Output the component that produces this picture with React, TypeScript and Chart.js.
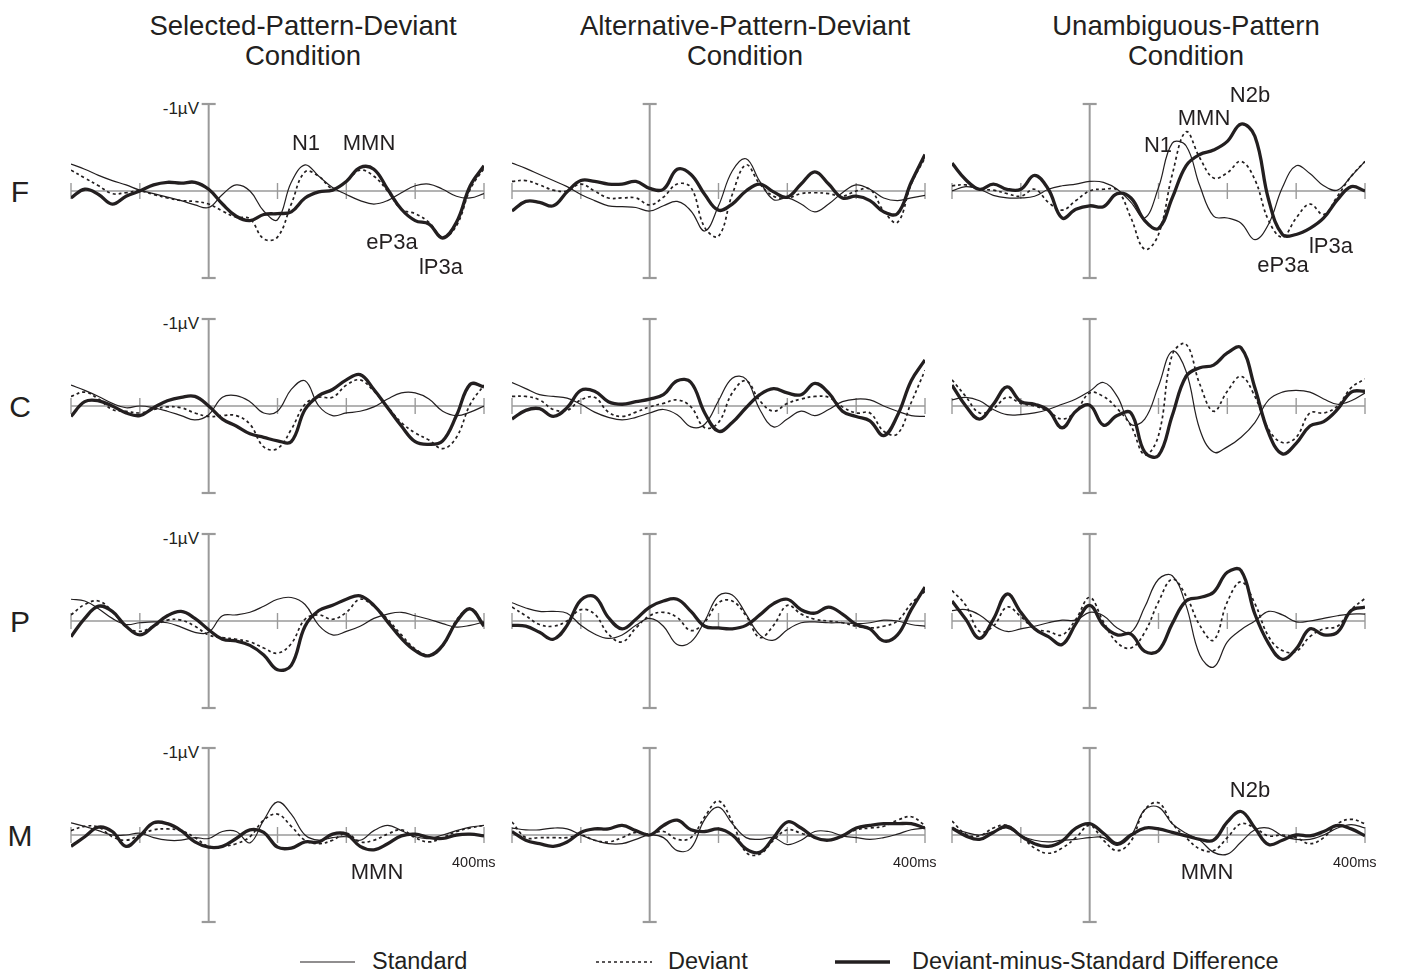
import React, { useEffect, useRef } from "react";
import { Chart, registerables } from "chart.js";

Chart.register(...registerables);

// ---------- data ----------
const TIME_MS = [-200, -180, -160, -140, -120, -100, -80, -60, -40, -20, 0, 20, 40, 60, 80, 100, 120, 140, 160, 180, 200, 220, 240, 260, 280, 300, 320, 340, 360, 380, 400];
const X_TICKS_MS = [-200, -100, 0, 100, 200, 300, 400];
const Y_RANGE_UV = [-1, 1];

const COLUMN_TITLES = [
  ["Selected-Pattern-Deviant", "Condition"],
  ["Alternative-Pattern-Deviant", "Condition"],
  ["Unambiguous-Pattern", "Condition"],
];
const ROW_LABELS = ["F", "C", "P", "M"];
const LEGEND_LABELS = ["Standard", "Deviant", "Deviant-minus-Standard Difference"];

// Frontal
const F_SEL_STD = [-0.31, -0.25, -0.18, -0.12, -0.07, -0.01, 0.03, 0.07, 0.11, 0.16, 0.19, 0.04, -0.07, 0, 0.23, 0.33, -0.10, -0.30, -0.17, -0.04, 0.04, 0.11, 0.15, 0.11, 0.02, -0.06, -0.08, -0.02, 0.06, 0.08, 0.03];
const F_SEL_DEV = [-0.24, -0.15, -0.06, 0.03, 0.02, 0, 0.04, 0.08, 0.11, 0.12, 0.15, 0.23, 0.30, 0.32, 0.55, 0.53, 0.15, -0.22, -0.17, -0.03, -0.11, -0.24, -0.17, 0, 0.21, 0.26, 0.36, 0.53, 0.40, -0.02, -0.26];
const F_SEL_DIFF = [0.08, -0.02, 0.04, 0.15, 0.06, 0, -0.07, -0.10, -0.09, -0.10, -0.02, 0.15, 0.29, 0.34, 0.27, 0.26, 0.24, 0.08, 0.01, -0.01, -0.11, -0.27, -0.25, -0.02, 0.21, 0.34, 0.38, 0.54, 0.36, -0.06, -0.29];

const F_ALT_STD = [-0.32, -0.26, -0.19, -0.12, -0.05, 0.04, 0.11, 0.17, 0.18, 0.19, 0.23, 0.17, 0.12, 0.23, 0.46, 0.17, -0.23, -0.37, -0.11, 0.10, 0.08, 0.15, 0.24, 0.15, 0.02, -0.07, -0.02, 0.08, 0.11, 0.08, 0.05];
const F_ALT_DEV = [-0.11, -0.12, -0.07, -0.01, 0, -0.08, 0, 0.08, 0.08, 0.08, 0.16, 0.07, -0.08, -0.04, 0.42, 0.52, 0.04, -0.30, -0.08, 0.06, 0.08, 0.03, 0.02, 0.03, 0.06, 0, -0.02, 0.23, 0.36, -0.08, -0.38];
const F_ALT_DIFF = [0.23, 0.12, 0.13, 0.17, 0.01, -0.12, -0.11, -0.08, -0.08, -0.11, -0.03, -0.02, -0.25, -0.19, 0.04, 0.22, 0.15, 0, -0.08, 0.01, 0.07, -0.08, -0.22, -0.08, 0.08, 0.06, 0.11, 0.24, 0.26, -0.10, -0.42];

const F_UNA_STD = [0, -0.05, -0.02, 0.05, 0.08, 0.08, 0.06, -0.02, -0.06, -0.08, -0.11, -0.10, -0.02, 0.13, 0.31, -0.04, -0.55, -0.52, -0.06, 0.29, 0.31, 0.37, 0.56, 0.38, -0.04, -0.29, -0.20, -0.06, -0.01, -0.17, -0.34];
const F_UNA_DEV = [-0.06, -0.07, -0.02, -0.01, 0.03, 0.06, -0.02, 0.13, 0.22, 0.11, 0, -0.02, -0.01, 0.31, 0.67, 0.50, -0.19, -0.68, -0.38, -0.15, -0.21, -0.34, -0.13, 0.34, 0.53, 0.31, 0.15, 0.27, 0.06, -0.17, -0.34];
const F_UNA_DIFF = [-0.32, -0.13, -0.02, -0.08, -0.02, -0.02, -0.18, -0.02, 0.31, 0.21, 0.17, 0.18, 0.03, 0.08, 0.34, 0.43, 0.08, -0.29, -0.42, -0.47, -0.57, -0.77, -0.63, 0.10, 0.50, 0.50, 0.43, 0.31, 0.10, -0.05, 0];

// Central
const C_SEL_STD = [-0.24, -0.18, -0.11, -0.03, 0.02, 0, 0.02, 0.06, 0.11, 0.16, 0.10, -0.10, -0.12, -0.05, 0.08, 0.06, -0.19, -0.29, 0, 0.11, 0.08, 0.06, 0.01, -0.08, -0.15, -0.15, -0.08, 0.06, 0.11, 0.07, 0];
const C_SEL_DEV = [-0.11, -0.16, -0.08, 0.04, 0.06, 0.08, 0.04, 0.01, 0.02, 0.08, 0.12, 0.11, 0.11, 0.21, 0.47, 0.49, 0.27, -0.02, -0.10, -0.10, -0.24, -0.30, -0.17, 0.01, 0.19, 0.31, 0.39, 0.49, 0.36, -0.02, -0.24];
const C_SEL_DIFF = [0.12, -0.05, -0.06, 0, 0.08, 0.11, 0.02, -0.06, -0.10, -0.11, 0, 0.15, 0.23, 0.32, 0.36, 0.40, 0.41, 0.04, -0.12, -0.19, -0.30, -0.36, -0.19, 0.02, 0.23, 0.41, 0.44, 0.40, 0.11, -0.25, -0.22];

const C_ALT_STD = [-0.27, -0.20, -0.13, -0.11, -0.09, -0.02, 0.07, 0.13, 0.16, 0.13, 0.08, 0.04, 0.10, 0.24, 0.21, -0.06, -0.32, -0.31, 0.04, 0.24, 0.15, 0.06, 0.11, 0.04, -0.05, -0.08, -0.07, 0, 0.06, 0.11, 0.12];
const C_ALT_DEV = [-0.11, -0.11, -0.07, 0.04, 0.05, -0.07, -0.10, 0.07, 0.12, 0.07, 0.01, -0.03, -0.07, 0.01, 0.25, 0.19, -0.15, -0.29, -0.06, 0.06, -0.03, -0.08, -0.11, -0.10, 0.01, 0.08, 0.08, 0.29, 0.32, -0.04, -0.41];
const C_ALT_DIFF = [0.15, 0.05, 0.03, 0.12, 0.02, -0.18, -0.17, -0.05, -0.02, -0.05, -0.08, -0.13, -0.29, -0.27, 0.08, 0.29, 0.19, 0.02, -0.13, -0.20, -0.15, -0.13, -0.26, -0.15, 0.06, 0.12, 0.17, 0.34, 0.11, -0.29, -0.53];

const C_UNA_STD = [-0.07, -0.10, -0.06, 0.04, 0.10, 0.10, 0.08, 0.04, -0.02, -0.08, -0.17, -0.27, -0.11, 0.21, 0.15, -0.23, -0.63, -0.40, 0.27, 0.53, 0.47, 0.36, 0.19, -0.07, -0.16, -0.18, -0.16, -0.08, -0.02, -0.06, -0.15];
const C_UNA_DEV = [-0.30, -0.11, 0.08, 0.03, -0.10, -0.03, 0, 0.06, 0.15, 0.06, -0.15, -0.11, 0.03, 0.23, 0.56, 0.34, -0.59, -0.71, -0.25, 0.06, -0.17, -0.34, -0.11, 0.27, 0.42, 0.36, 0.08, 0.08, 0, -0.21, -0.31];
const C_UNA_DIFF = [-0.24, 0, 0.15, -0.02, -0.22, -0.05, -0.02, 0.05, 0.25, 0.06, -0.01, 0.22, 0.11, 0.08, 0.53, 0.57, 0.11, -0.34, -0.44, -0.47, -0.61, -0.67, -0.21, 0.31, 0.55, 0.43, 0.23, 0.18, 0.04, -0.16, -0.17];

// Parietal
const P_SEL_STD = [-0.25, -0.23, -0.14, -0.03, 0.04, 0.02, 0.01, 0.02, 0.07, 0.13, 0.13, -0.06, -0.07, -0.10, -0.17, -0.25, -0.27, -0.19, 0.05, 0.16, 0.12, 0.06, -0.03, -0.08, -0.10, -0.06, -0.02, 0.03, 0.07, 0.05, 0.01];
const P_SEL_DEV = [-0.07, -0.19, -0.23, -0.11, 0.07, 0.12, 0.06, -0.01, -0.01, 0.06, 0.16, 0.19, 0.21, 0.24, 0.31, 0.37, 0.26, -0.02, -0.07, -0.02, -0.10, -0.25, -0.17, -0.02, 0.16, 0.32, 0.39, 0.29, -0.01, -0.14, 0.03];
const P_SEL_DIFF = [0.18, -0.03, -0.17, -0.11, 0.06, 0.16, 0.06, -0.06, -0.11, -0.03, 0.10, 0.21, 0.23, 0.28, 0.39, 0.56, 0.51, 0.06, -0.12, -0.18, -0.25, -0.29, -0.18, 0.01, 0.20, 0.34, 0.40, 0.28, 0.01, -0.14, 0.06];

const P_ALT_STD = [-0.21, -0.15, -0.11, -0.11, -0.09, 0.05, 0.15, 0.20, 0.16, 0.05, -0.03, 0.06, 0.27, 0.24, 0, -0.29, -0.30, -0.08, 0.16, 0.22, 0.10, 0.02, 0.01, 0.02, 0.02, 0.03, 0.02, -0.01, 0, 0.04, 0.06];
const P_ALT_DEV = [-0.16, -0.06, 0.04, 0.06, 0, -0.13, -0.08, 0.15, 0.24, 0.08, -0.06, -0.10, -0.04, 0.11, 0.01, -0.21, -0.23, -0.06, 0.19, 0.05, -0.18, -0.08, -0.02, 0, 0.02, 0.06, 0.08, 0.06, 0, -0.20, -0.34];
const P_ALT_DIFF = [0.05, 0.06, 0.13, 0.21, 0.05, -0.24, -0.28, -0.04, 0.09, -0.02, -0.16, -0.23, -0.25, -0.11, 0.06, 0.08, 0.09, 0.05, -0.07, -0.20, -0.25, -0.13, -0.09, -0.16, -0.08, 0.04, 0.09, 0.23, 0.16, -0.13, -0.39];

const P_UNA_STD = [-0.12, -0.13, -0.07, 0.05, 0.12, 0.09, 0.06, 0.02, -0.01, -0.01, -0.10, -0.06, 0.08, 0.13, -0.16, -0.48, -0.52, -0.18, 0.39, 0.53, 0.24, 0.10, 0, -0.11, -0.07, 0.01, 0, -0.03, -0.06, -0.08, -0.08];
const P_UNA_DEV = [-0.35, -0.18, 0.12, 0.06, -0.16, -0.05, 0.09, 0.12, 0.16, -0.02, -0.27, 0.01, 0.25, 0.31, 0.13, -0.22, -0.48, -0.29, 0.05, 0.22, -0.22, -0.45, -0.20, 0.18, 0.34, 0.35, 0.18, 0.09, 0.06, -0.13, -0.26];
const P_UNA_DIFF = [-0.23, -0.02, 0.20, -0.02, -0.31, -0.10, 0.09, 0.18, 0.27, 0.03, -0.18, 0.05, 0.16, 0.15, 0.35, 0.34, 0.03, -0.23, -0.27, -0.33, -0.56, -0.58, -0.08, 0.26, 0.44, 0.32, 0.09, 0.16, 0.13, -0.12, -0.16];

// Mastoid
const M_SEL_STD = [-0.14, -0.10, -0.05, 0, 0, -0.02, 0.03, 0.06, 0.06, 0.03, 0.04, -0.04, -0.04, 0.09, -0.17, -0.38, -0.24, 0, 0.06, 0.03, 0.02, 0.06, -0.05, -0.11, -0.05, 0.02, 0.04, 0, -0.05, -0.09, -0.11];
const M_SEL_DEV = [-0.05, -0.10, -0.09, 0.02, 0.06, 0, -0.06, -0.07, -0.05, 0.03, 0.13, 0.13, 0.10, 0.02, -0.17, -0.24, -0.10, 0.06, 0.10, 0.06, -0.02, 0.08, 0.06, -0.01, -0.06, 0.03, 0.08, 0.03, -0.04, -0.08, -0.11];
const M_SEL_DIFF = [0.13, 0.02, -0.09, -0.04, 0.13, 0.01, -0.14, -0.13, -0.05, 0.08, 0.14, 0.13, 0.04, -0.06, -0.03, 0.14, 0.15, 0.08, 0.08, -0.01, -0.01, 0.13, 0.17, 0.10, 0.01, -0.01, 0.03, 0.04, 0, -0.01, 0.01];

const M_ALT_STD = [-0.08, -0.06, -0.06, -0.08, -0.07, 0, 0.06, 0.10, 0.10, 0.05, 0, 0.03, 0.18, 0.15, -0.18, -0.32, -0.13, 0.03, 0.05, 0.03, 0.11, 0.06, -0.04, -0.04, 0.01, 0.03, 0.05, 0.03, -0.01, -0.06, -0.08];
const M_ALT_DEV = [-0.15, 0.03, 0.03, 0.03, 0.03, 0, 0.06, 0.08, 0.03, -0.03, -0.01, -0.04, 0.05, 0.03, -0.21, -0.39, -0.15, 0.20, 0.22, 0.06, -0.06, -0.02, 0.03, 0.06, 0.01, -0.06, -0.08, -0.10, -0.17, -0.21, -0.11];
const M_ALT_DIFF = [-0.04, 0.06, 0.10, 0.13, 0.08, -0.03, -0.07, -0.07, -0.11, -0.05, 0, -0.11, -0.17, -0.06, -0.04, -0.07, 0, 0.16, 0.20, 0.03, -0.15, -0.08, 0.03, 0.06, 0.01, -0.08, -0.11, -0.13, -0.13, -0.13, -0.08];

const M_UNA_STD = [-0.08, -0.03, 0, -0.04, -0.08, 0.01, 0.06, 0.08, 0.06, 0.05, 0.03, 0.03, 0.12, 0.01, -0.29, -0.32, -0.13, -0.02, 0.06, 0.20, 0.22, 0.08, -0.06, -0.08, 0.01, 0.05, 0.05, 0, -0.08, -0.12, -0.08];
const M_UNA_DEV = [-0.16, -0.01, 0.01, -0.08, -0.11, 0.01, 0.15, 0.21, 0.15, 0.03, -0.11, 0.06, 0.18, 0.07, -0.29, -0.37, -0.13, 0.03, 0.16, 0.18, 0.03, -0.13, -0.08, 0.01, 0, 0.03, 0.10, 0.03, -0.13, -0.18, -0.13];
const M_UNA_DIFF = [-0.08, 0.01, 0.05, -0.03, -0.10, 0.01, 0.10, 0.13, 0.07, -0.08, -0.13, -0.02, 0.10, 0, -0.08, -0.07, -0.03, 0.01, 0.05, 0.06, -0.15, -0.27, -0.08, 0.11, 0.06, 0, 0.01, -0.04, -0.11, -0.07, 0.01];

// ---------- layout & style ----------
const INK = "#231f20";
const AXIS = "#9a9a9a";
const FONT = '"Liberation Sans", Arial, Helvetica, sans-serif';
const COL_LEFT = [71, 512, 952];
const ROW_TOP = [104, 319, 534, 748];
const PLOT_W = 413;
const PLOT_H = 174;
const PAD = 10;

const PANELS = [
  { row: 0, col: 0, std: F_SEL_STD, dev: F_SEL_DEV, diff: F_SEL_DIFF },
  { row: 0, col: 1, std: F_ALT_STD, dev: F_ALT_DEV, diff: F_ALT_DIFF },
  { row: 0, col: 2, std: F_UNA_STD, dev: F_UNA_DEV, diff: F_UNA_DIFF },
  { row: 1, col: 0, std: C_SEL_STD, dev: C_SEL_DEV, diff: C_SEL_DIFF },
  { row: 1, col: 1, std: C_ALT_STD, dev: C_ALT_DEV, diff: C_ALT_DIFF },
  { row: 1, col: 2, std: C_UNA_STD, dev: C_UNA_DEV, diff: C_UNA_DIFF },
  { row: 2, col: 0, std: P_SEL_STD, dev: P_SEL_DEV, diff: P_SEL_DIFF },
  { row: 2, col: 1, std: P_ALT_STD, dev: P_ALT_DEV, diff: P_ALT_DIFF },
  { row: 2, col: 2, std: P_UNA_STD, dev: P_UNA_DEV, diff: P_UNA_DIFF },
  { row: 3, col: 0, std: M_SEL_STD, dev: M_SEL_DEV, diff: M_SEL_DIFF },
  { row: 3, col: 1, std: M_ALT_STD, dev: M_ALT_DEV, diff: M_ALT_DIFF },
  { row: 3, col: 2, std: M_UNA_STD, dev: M_UNA_DEV, diff: M_UNA_DIFF },
];

const ANNOTATIONS = [
  { text: "N1", x: 306, y: 143 },
  { text: "MMN", x: 369, y: 143 },
  { text: "eP3a", x: 392, y: 242 },
  { text: "lP3a", x: 441, y: 267 },
  { text: "N2b", x: 1250, y: 95 },
  { text: "MMN", x: 1204, y: 118 },
  { text: "N1", x: 1158, y: 145 },
  { text: "eP3a", x: 1283, y: 265 },
  { text: "lP3a", x: 1331, y: 246 },
  { text: "MMN", x: 377, y: 872 },
  { text: "N2b", x: 1250, y: 790 },
  { text: "MMN", x: 1207, y: 872 },
];

const axesPlugin = {
  id: "erpAxes",
  beforeDatasetsDraw(chart: any) {
    const { ctx } = chart;
    const xs = chart.scales.x;
    const ys = chart.scales.y;
    const x0 = xs.getPixelForValue(0);
    const y0 = ys.getPixelForValue(0);
    const yTop = ys.getPixelForValue(Y_RANGE_UV[0]);
    const yBot = ys.getPixelForValue(Y_RANGE_UV[1]);
    const xMin = xs.getPixelForValue(X_TICKS_MS[0]);
    const xMax = xs.getPixelForValue(X_TICKS_MS[X_TICKS_MS.length - 1]);
    ctx.save();
    ctx.strokeStyle = AXIS;
    ctx.lineCap = "butt";
    ctx.lineWidth = 1.6;
    ctx.beginPath();
    ctx.moveTo(xMin, y0);
    ctx.lineTo(xMax, y0);
    ctx.stroke();
    ctx.lineWidth = 1.4;
    for (const t of X_TICKS_MS) {
      if (t === 0) continue;
      const px = xs.getPixelForValue(t);
      ctx.beginPath();
      ctx.moveTo(px, y0 - 8);
      ctx.lineTo(px, y0 + 8);
      ctx.stroke();
    }
    ctx.lineWidth = 2;
    ctx.beginPath();
    ctx.moveTo(x0, yTop);
    ctx.lineTo(x0, yBot);
    ctx.stroke();
    ctx.lineWidth = 2.2;
    for (const yy of [yTop, yBot]) {
      ctx.beginPath();
      ctx.moveTo(x0 - 7, yy);
      ctx.lineTo(x0 + 7, yy);
      ctx.stroke();
    }
    ctx.restore();
  },
};

function toPoints(values: number[]) {
  return TIME_MS.map((t, i) => ({ x: t, y: values[i] }));
}

function Panel({ panel }: { panel: any }) {
  const ref = useRef<HTMLCanvasElement | null>(null);
  useEffect(() => {
    if (!ref.current) return;
    const chart = new Chart(ref.current, {
      type: "line",
      data: {
        datasets: [
          { label: LEGEND_LABELS[0], data: toPoints(panel.std), borderColor: INK, borderWidth: 1.2, tension: 0.4, pointRadius: 0, fill: false },
          { label: LEGEND_LABELS[1], data: toPoints(panel.dev), borderColor: INK, borderWidth: 1.7, borderDash: [3, 3], tension: 0.4, pointRadius: 0, fill: false },
          { label: LEGEND_LABELS[2], data: toPoints(panel.diff), borderColor: INK, borderWidth: 3.3, tension: 0.4, pointRadius: 0, fill: false },
        ],
      },
      options: {
        responsive: false,
        maintainAspectRatio: false,
        animation: false,
        devicePixelRatio: 1,
        layout: { padding: PAD },
        plugins: { legend: { display: false }, tooltip: { enabled: false } },
        events: [],
        scales: {
          x: { type: "linear", min: X_TICKS_MS[0], max: X_TICKS_MS[X_TICKS_MS.length - 1], display: false },
          y: { type: "linear", min: Y_RANGE_UV[0], max: Y_RANGE_UV[1], reverse: true, display: false },
        },
      },
      plugins: [axesPlugin],
    } as any);
    return () => chart.destroy();
  }, [panel]);
  const w = PLOT_W + 2 * PAD;
  const h = PLOT_H + 2 * PAD;
  return (
    <canvas
      ref={ref}
      width={w}
      height={h}
      style={{ position: "absolute", left: COL_LEFT[panel.col] - PAD, top: ROW_TOP[panel.row] - PAD, width: w, height: h }}
    />
  );
}

function Txt({ x, y, size, children, align = "center" }: any) {
  const tx = align === "center" ? "-50%" : align === "right" ? "-100%" : "0";
  return (
    <div
      style={{
        position: "absolute",
        left: x,
        top: y,
        transform: `translate(${tx}, -50%)`,
        fontFamily: FONT,
        fontSize: size,
        lineHeight: 1,
        color: INK,
        whiteSpace: "nowrap",
      }}
    >
      {children}
    </div>
  );
}

export default function App() {
  const titleX = [303, 745, 1186];
  return (
    <div style={{ position: "absolute", left: 0, top: 0, width: 1402, height: 972, background: "#fff", overflow: "hidden" }}>
      {COLUMN_TITLES.map((lines, i) => (
        <React.Fragment key={"t" + i}>
          <Txt x={titleX[i]} y={26} size={27.5}>{lines[0]}</Txt>
          <Txt x={titleX[i]} y={56} size={27.5}>{lines[1]}</Txt>
        </React.Fragment>
      ))}
      {ROW_LABELS.map((lab, r) => (
        <Txt key={"r" + r} x={20} y={ROW_TOP[r] + PLOT_H / 2 + 1} size={30}>{lab}</Txt>
      ))}
      {ROW_TOP.map((top, r) => (
        <Txt key={"u" + r} x={199} y={top + 4} size={17} align="right">-1µV</Txt>
      ))}
      {PANELS.map((p, i) => (
        <Panel key={i} panel={p} />
      ))}
      {ANNOTATIONS.map((a, i) => (
        <Txt key={"a" + i} x={a.x} y={a.y} size={22}>{a.text}</Txt>
      ))}
      {COL_LEFT.map((l, c) => (
        <Txt key={"ms" + c} x={l + PLOT_W - 32} y={862} size={14.5} align="left">400ms</Txt>
      ))}
      <svg style={{ position: "absolute", left: 0, top: 940, width: 1402, height: 32 }} width={1402} height={32}>
        <line x1={300} y1={22} x2={355} y2={22} stroke={INK} strokeWidth={1.2} />
        <line x1={596} y1={22} x2={652} y2={22} stroke={INK} strokeWidth={1.7} strokeDasharray="3 3" />
        <line x1={835} y1={22} x2={890} y2={22} stroke={INK} strokeWidth={3.3} />
      </svg>
      <Txt x={372} y={962} size={23.5} align="left">{LEGEND_LABELS[0]}</Txt>
      <Txt x={668} y={962} size={23.5} align="left">{LEGEND_LABELS[1]}</Txt>
      <Txt x={912} y={962} size={23.5} align="left">{LEGEND_LABELS[2]}</Txt>
    </div>
  );
}
